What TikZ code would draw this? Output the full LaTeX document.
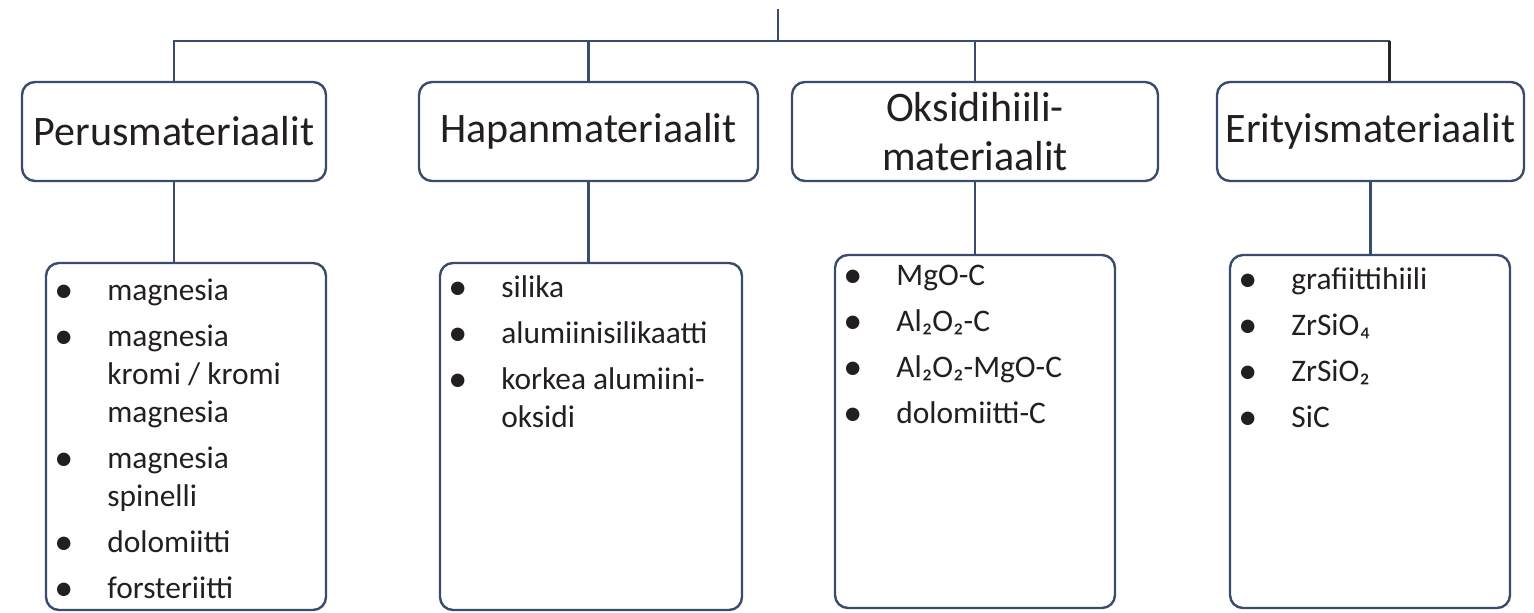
\documentclass[tikz,border=0pt]{standalone}
\usepackage{fontspec}
\setmainfont{Carlito}
\definecolor{lineblue}{HTML}{3A4C6E}
\definecolor{txt}{HTML}{231F20}
\newcommand{\itm}[1]{\makebox[28.5pt][l]{\hspace{2pt}\raisebox{-1pt}{\fontsize{19}{19}\selectfont •}}#1}
\newcommand{\cnt}[1]{\hspace*{28.5pt}#1}
\newcommand{\items}[1]{\begin{tabular}[t]{@{}l@{}}#1\end{tabular}}

\begin{document}
\begin{tikzpicture}[x=0.5pt,y=-0.5pt,
    hdr/.style={draw=lineblue,line width=1.2pt,rounded corners=6.5pt,inner sep=0pt,
      minimum height=49.5pt,align=center,text=txt,font=\fontsize{21}{24.5}\selectfont},
    box/.style={draw=lineblue,line width=1.2pt,rounded corners=6.5pt,inner sep=0pt},
    lst/.style={anchor=base west,inner sep=0pt,text=txt,
      font=\fontsize{15.7}{19}\selectfont},
    conn/.style={draw=lineblue,line width=1.2pt}]
  \useasboundingbox (0,0) rectangle (1534,612);
  % headers
  \node[hdr,minimum width=152pt]   (h1) at (174,131.5)   {Perusmateriaalit};
  \node[hdr,minimum width=169.5pt] (h2) at (588.5,131.5) {Hapanmateriaalit};
  \node[hdr,minimum width=183pt]   (h3) at (975,131.5)   {Oksidihiili-\\materiaalit};
  \node[hdr,minimum width=153.5pt] (h4) at (1370.5,131.5) {Erityismateriaalit};
  % lists
  \node[box,minimum width=140pt,minimum height=173.5pt] (c1) at (186,436.5) {};
  \node[box,minimum width=151pt,minimum height=173.5pt] (c2) at (591,436.5) {};
  \node[box,minimum width=140pt,minimum height=176.5pt] (c3) at (975,431.5) {};
  \node[box,minimum width=140pt,minimum height=176.5pt] (c4) at (1370,431.5) {};
  \node[lst] (l1) at (50,300) {\items{\itm{magnesia}\\[4pt] \itm{magnesia}\\ \cnt{kromi / kromi}\\ \cnt{magnesia}\\[4pt]
    \itm{magnesia}\\ \cnt{spinelli}\\[4pt] \itm{dolomiitti}\\[4pt] \itm{forsteriitti}}};
  \node[lst] (l2) at (444,297) {\items{\itm{silika}\\[4pt] \itm{alumiinisilikaatti}\\[4pt] \itm{korkea alumiini-}\\ \cnt{oksidi}}};
  \node[lst] (l3) at (839,285) {\items{\itm{MgO-C}\\[4pt] \itm{Al₂O₂-C}\\[4pt] \itm{Al₂O₂-MgO-C}\\[4pt] \itm{dolomiitti-C}}};
  \node[lst] (l4) at (1234,289) {\items{\itm{grafiittihiili}\\[4pt] \itm{ZrSiO₄}\\[4pt] \itm{ZrSiO₂}\\[4pt] \itm{SiC}}};
  % connectors
  \coordinate (root) at (778,9);
  \coordinate (bus) at (778,41);
  \coordinate (drop) at ([xshift=9.5pt]h4.north);
  \draw[conn] (root) -- (bus);
  \draw[conn] (h1.north) |- (bus);
  \draw[conn] (h2.north) |- (bus);
  \draw[conn] (h3.north) |- (bus);
  \draw[conn] (bus) -- (drop |- bus);
  \draw[conn,draw=black!85] (drop |- bus) -- (drop);
  \foreach \i in {1,...,4}
    \draw[conn] (h\i.south) -- (h\i.south |- c\i.north);
\end{tikzpicture}
\end{document}
